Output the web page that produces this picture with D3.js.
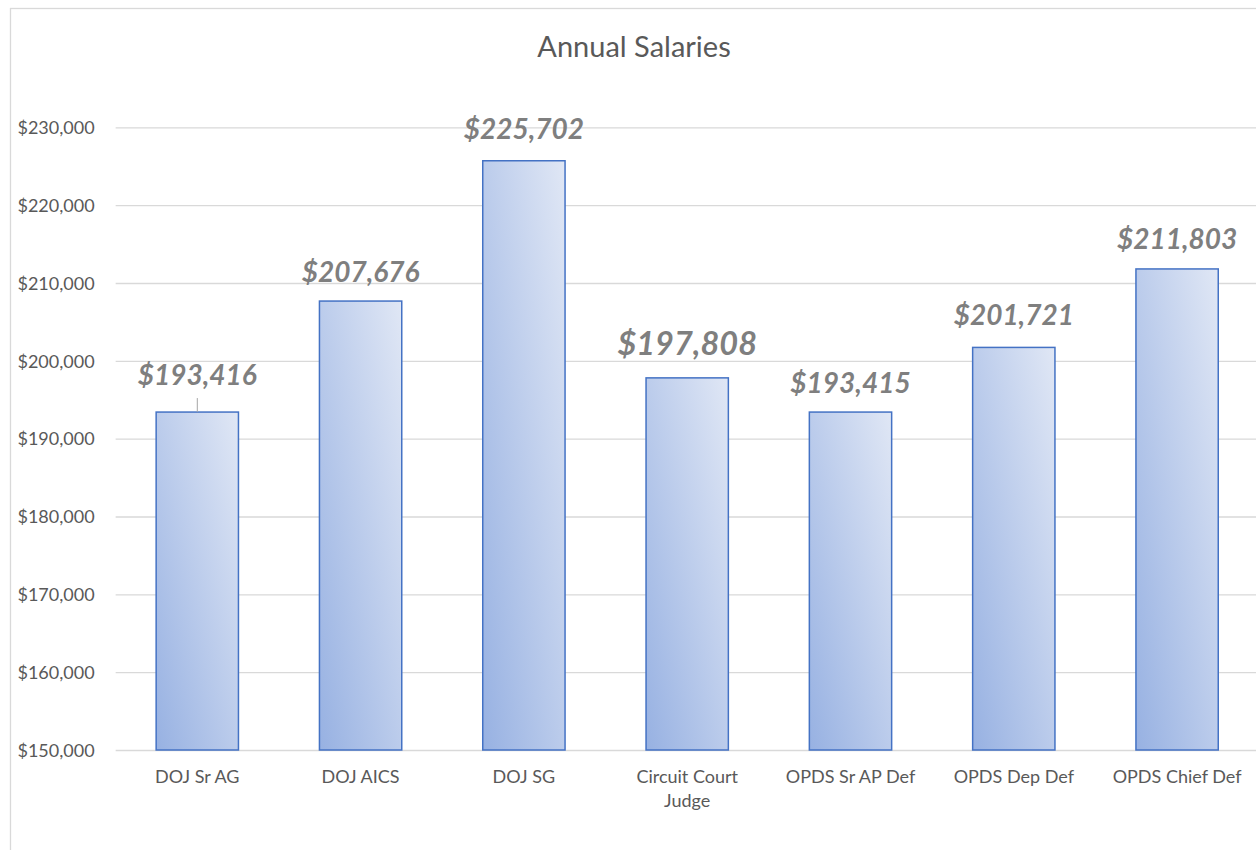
<!DOCTYPE html>
<html>
<head>
<meta charset="utf-8">
<script src="https://cdn.jsdelivr.net/npm/d3@7"></script>
<style>
  body { margin: 0; background: #fff; }
  svg { display: block; font-family: Lato, "Open Sans", sans-serif; }
  .axis path { display: none; }
  .grid line { stroke: #d9d9d9; stroke-width: 1.3; }
  .ylab text { fill: #595959; font-size: 18px; }
  .xlab text { fill: #595959; font-size: 18px; }
</style>
</head>
<body>
<svg id="chart" width="1256" height="850"></svg>
<script>
/* global d3 */

var categories = ["DOJ Sr AG", "DOJ AICS", "DOJ SG", "Circuit Court Judge",
                  "OPDS Sr AP Def", "OPDS Dep Def", "OPDS Chief Def"];
var salaries = [193416, 207676, 225702, 197808, 193415, 201721, 211803];
var yTicks = [150000, 160000, 170000, 180000, 190000, 200000, 210000, 220000, 230000];
var chartTitle = "Annual Salaries";

var width = 1256,
    height = 850,
    plot = { left: 115.65, right: 1258.75, top: 127.3, bottom: 750 };

var svg = d3.select("#chart");

// chart area frame (runs off the right and bottom edge like the screenshot)
svg.append("rect")
    .attr("x", 10.5).attr("y", 8.5)
    .attr("width", 1400).attr("height", 1000)
    .attr("fill", "#fff")
    .attr("stroke", "#d9d9d9")
    .attr("stroke-width", 1.3);

var defs = svg.append("defs");
var grad = defs.append("linearGradient")
    .attr("id", "barFill")
    .attr("x1", 0).attr("y1", 1).attr("x2", 1).attr("y2", 0);
grad.append("stop").attr("offset", "0%").attr("stop-color", "#97b1e2");
grad.append("stop").attr("offset", "100%").attr("stop-color", "#e0e7f5");

var x = d3.scaleBand()
    .domain(categories)
    .range([plot.left, plot.right])
    .paddingInner(0.496)
    .paddingOuter(0.248);

var y = d3.scaleLinear()
    .domain([150000, 230000])
    .range([plot.bottom, plot.top]);

// GRID
svg.append("g")
    .attr("class", "axis grid")
    .attr("transform", "translate(" + plot.left + ",0)")
    .call(d3.axisLeft(y).tickValues(yTicks).tickSize(-(width - plot.left)).tickFormat(""));

// Y LABELS
svg.append("g")
    .attr("class", "axis ylab")
    .attr("transform", "translate(" + plot.left + ",0)")
    .call(d3.axisLeft(y).tickValues(yTicks).tickSize(0).tickPadding(21).tickFormat(d3.format("$,")))
    .attr("font-family", null)
    .attr("font-size", null)
    .selectAll("text").attr("dy", "0.35em");

// X LABELS
var xAxis = svg.append("g")
    .attr("class", "axis xlab")
    .attr("transform", "translate(0," + plot.bottom + ")")
    .call(d3.axisBottom(x).tickSize(0).tickPadding(20))
    .attr("font-family", null)
    .attr("font-size", null);
xAxis.selectAll("text").attr("dy", "0.71em").call(wrap, 140);

// BARS
svg.append("g").selectAll("rect")
    .data(salaries)
    .enter().append("rect")
    .attr("x", function (d, i) { return x(categories[i]); })
    .attr("y", function (d) { return y(d); })
    .attr("width", x.bandwidth())
    .attr("height", function (d) { return y(150000) - y(d); })
    .attr("fill", "url(#barFill)")
    .attr("stroke", "#4472c4")
    .attr("stroke-width", 1.5);

// DATA LABELS
// a couple of labels were dragged / resized by hand in the original
var labelSize = { 3: 32.5 };
var labelGap = { 0: 27, 2: 22, 3: 23, 5: 22 };

svg.append("g").selectAll("text")
    .data(salaries)
    .enter().append("text")
    .attr("x", function (d, i) { return x(categories[i]) + x.bandwidth() / 2; })
    .attr("y", function (d, i) { return y(d) - (labelGap[i] || 19.5); })
    .attr("text-anchor", "middle")
    .attr("fill", "#7f7f7f")
    .style("font-weight", "bold")
    .style("font-style", "italic")
    .style("font-size", function (d, i) { return (labelSize[i] || 28) + "px"; })
    .text(function (d) { return d3.format("$,")(d); });

// leader line for the moved label
svg.append("line")
    .attr("x1", x(categories[0]) + x.bandwidth() / 2)
    .attr("x2", x(categories[0]) + x.bandwidth() / 2)
    .attr("y1", y(salaries[0]) - 14)
    .attr("y2", y(salaries[0]))
    .attr("stroke", "#a6a6a6")
    .attr("stroke-width", 1);

// TITLE
svg.append("text")
    .attr("x", 634)
    .attr("y", 57)
    .attr("text-anchor", "middle")
    .attr("fill", "#595959")
    .style("font-size", "29px")
    .text(chartTitle);

function wrap(text, maxWidth) {
    text.each(function () {
        var t = d3.select(this),
            words = t.text().split(/\s+/),
            line = [],
            dy = parseFloat(t.attr("dy")),
            tspan = t.text(null).append("tspan").attr("x", 0).attr("dy", dy + "em");
        words.forEach(function (w) {
            line.push(w);
            tspan.text(line.join(" "));
            if (tspan.node().getComputedTextLength() > maxWidth && line.length > 1) {
                line.pop();
                tspan.text(line.join(" "));
                line = [w];
                tspan = t.append("tspan").attr("x", 0).attr("dy", "1.35em").text(w);
            }
        });
    });
}
</script>
</body>
</html>
